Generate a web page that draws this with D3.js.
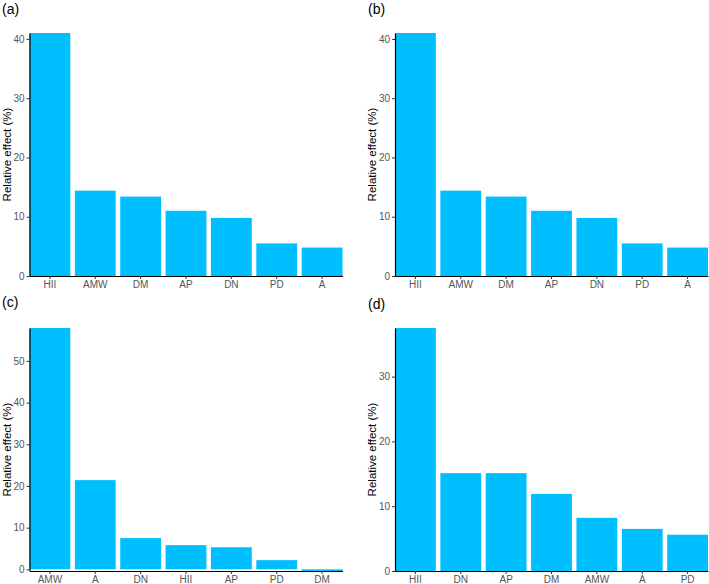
<!DOCTYPE html>
<html lang="en">
  <head>
    <meta charset="UTF-8" />
    <title>Relative effect</title>
    <script src="https://d3js.org/d3.v7.min.js"></script>
    <style>
      body {
        margin: 0;
        background: #fff;
      }
      svg {
        display: block;
        font-family: "Liberation Sans", Arial, sans-serif;
      }
    </style>
  </head>
  <body>
    <div id="chart"></div>
    <script>
      // Data for each panel (ordered as drawn)
      const catsA = ["HII", "AMW", "DM", "AP", "DN", "PD", "A"];
      const valsA = [41.0, 14.4, 13.4, 11.0, 9.8, 5.5, 4.8];

      const catsB = ["HII", "AMW", "DM", "AP", "DN", "PD", "A"];
      const valsB = [41.0, 14.4, 13.4, 11.0, 9.8, 5.5, 4.8];

      const catsC = ["AMW", "A", "DN", "HII", "AP", "PD", "DM"];
      const valsC = [57.9, 21.4, 7.5, 5.8, 5.3, 2.2, -0.4];

      const catsD = ["HII", "DN", "AP", "DM", "AMW", "A", "PD"];
      const valsD = [37.5, 15.1, 15.1, 11.9, 8.2, 6.5, 5.6];

      const panelLabels = ["(a)", "(b)", "(c)", "(d)"];

      const width = 709;
      const height = 584;

      const svg = d3
        .select("#chart")
        .append("svg")
        .attr("width", width)
        .attr("height", height);

      // plot area of each panel
      const panels = [
        { cats: catsA, vals: valsA, left: 29.5, top: 33, label: panelLabels[0], lx: 2, ly: 14, tx: 7 },
        { cats: catsB, vals: valsB, left: 395, top: 33, label: panelLabels[1], lx: 368, ly: 14, tx: 372 },
        { cats: catsC, vals: valsC, left: 29.5, top: 328, label: panelLabels[2], lx: 2, ly: 307, tx: 7 },
        { cats: catsD, vals: valsD, left: 395, top: 328, label: panelLabels[3], lx: 368, ly: 309, tx: 372 },
      ];
      const pw = 313;
      const ph = 243;

      panels.forEach((p) => drawPanel(p));

      function drawPanel(p) {
        const g = svg
          .append("g")
          .attr("transform", `translate(${p.left},${p.top})`);

        const x = d3
          .scaleBand()
          .domain(p.cats)
          .range([0, pw])
          .paddingInner(0.1)
          .paddingOuter(0);

        const y = d3
          .scaleLinear()
          .domain([Math.min(0, d3.min(p.vals)), d3.max(p.vals)])
          .range([ph, 0]);

        const data = p.cats.map((c, i) => ({ cat: c, val: p.vals[i] }));

        g.selectAll("rect")
          .data(data)
          .enter()
          .append("rect")
          .attr("x", (d) => x(d.cat))
          .attr("width", x.bandwidth())
          .attr("y", (d) => y(Math.max(0, d.val)))
          .attr("height", (d) => Math.abs(y(0) - y(d.val)))
          .attr("fill", "#00BFFF");

        // y axis
        const yAxis = g
          .append("g")
          .call(d3.axisLeft(y).ticks(5).tickSize(3).tickPadding(2).tickSizeOuter(0));
        yAxis.select(".domain").attr("stroke", "#000").attr("stroke-width", 1.2);
        yAxis.selectAll(".tick line").attr("stroke", "#333");
        yAxis
          .selectAll(".tick text")
          .attr("fill", "#555")
          .attr("font-size", 10);
        yAxis.selectAll(".tick").filter((d) => d < 0).remove();

        // x axis
        const xAxis = g
          .append("g")
          .attr("transform", `translate(0,${ph})`)
          .call(d3.axisBottom(x).tickSize(3).tickPadding(2).tickSizeOuter(0));
        xAxis.select(".domain").attr("stroke", "#000").attr("stroke-width", 1.2);
        xAxis.selectAll(".tick line").attr("stroke", "#333");
        xAxis
          .selectAll(".tick text")
          .attr("fill", "#555")
          .attr("font-size", 10);

        // axis title
        svg
          .append("text")
          .attr("transform", `translate(${p.tx},${p.top + ph / 2}) rotate(-90)`)
          .attr("text-anchor", "middle")
          .attr("dy", "0.35em")
          .attr("font-size", 11.5)
          .attr("fill", "#000")
          .text("Relative effect (%)");

        // panel label
        svg
          .append("text")
          .attr("x", p.lx)
          .attr("y", p.ly)
          .attr("font-size", 14)
          .attr("fill", "#000")
          .text(p.label);
      }
    </script>
  </body>
</html>
